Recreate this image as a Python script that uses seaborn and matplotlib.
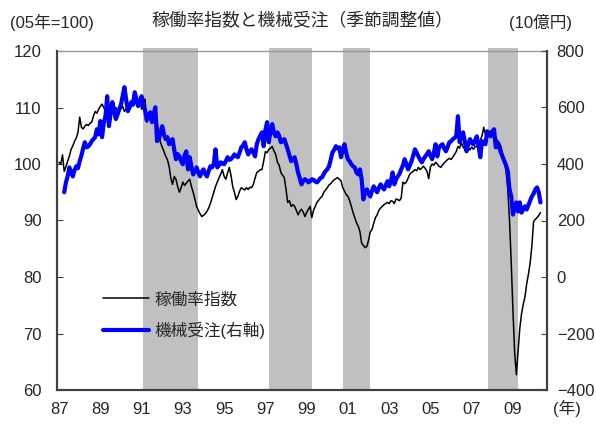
import numpy as np
import pandas as pd
import matplotlib
matplotlib.use("Agg")
import matplotlib.pyplot as plt
import seaborn as sns

# ==========================
# DATA (monthly)
# ==========================

# 稼働率指数 (left axis, 2005=100), Jan 1987 - May 2010
kado = [
    100.3, 100.0, 101.6, 98.7, 99.5, 100.5, 101.4, 102.6, 103.2, 104.0, 104.6, 105.6,   # 1987
    108.3, 106.5, 106.2, 106.7, 107.0, 106.8, 107.2, 107.4, 108.5, 109.3, 109.0, 109.7,  # 1988
    110.2, 110.6, 110.0, 109.4, 109.0, 109.3, 110.0, 109.6, 109.2, 110.0, 109.5, 109.2,  # 1989
    109.8, 110.2, 109.3, 109.8, 110.4, 110.6, 110.2, 110.8, 111.0, 110.6, 111.2, 111.5,  # 1990
    109.7, 110.8, 111.5, 107.4, 108.2, 109.0, 108.4, 107.8, 108.0, 107.4, 105.6, 103.8,  # 1991
    103.0, 102.2, 101.4, 100.8, 99.6, 97.5, 96.4, 97.8, 97.3, 96.0, 95.0, 95.8,          # 1992
    96.8, 96.2, 96.6, 97.0, 97.3, 96.0, 95.0, 93.8, 92.5, 91.8, 91.2, 90.7,              # 1993
    90.9, 91.2, 91.6, 92.2, 93.0, 94.0, 95.0, 96.0, 96.8, 97.5, 98.2, 99.0,              # 1994
    97.8, 97.3, 98.4, 99.4, 98.0, 96.0, 95.0, 93.7, 94.3, 95.2, 95.8, 95.6,              # 1995
    95.4, 95.8, 95.5, 95.9, 95.8, 96.4, 97.5, 98.5, 98.7, 99.0, 99.0, 100.5,             # 1996
    102.2, 102.0, 102.6, 102.8, 103.1, 102.3, 101.7, 100.3, 99.8, 98.5, 98.0, 97.6,      # 1997
    95.5, 93.2, 93.5, 92.5, 92.8, 92.5, 91.8, 91.0, 91.6, 92.0, 91.5, 90.7,              # 1998
    91.4, 92.0, 92.5, 90.5, 91.8, 92.5, 93.2, 93.6, 94.0, 94.3, 95.0, 95.4,              # 1999
    95.8, 96.3, 96.5, 96.9, 97.2, 97.4, 97.6, 97.3, 97.0, 95.8, 95.2, 94.6,              # 2000
    94.3, 93.5, 92.5, 91.4, 90.5, 89.6, 89.0, 88.0, 86.0, 85.6, 85.2, 85.4,              # 2001
    86.5, 88.0, 88.4, 89.5, 90.5, 91.0, 91.8, 92.2, 92.5, 92.8, 93.0, 93.2,              # 2002
    93.0, 93.5, 93.4, 93.0, 93.8, 93.7, 93.5, 94.0, 96.8, 96.5, 96.8, 97.5,              # 2003
    98.2, 98.5, 98.7, 99.0, 98.8, 99.4, 99.0, 99.3, 99.6, 99.2, 98.7, 97.4,              # 2004
    99.5, 100.0, 99.8, 100.3, 100.0, 99.6, 99.4, 99.8, 100.2, 100.5, 100.8, 101.0,       # 2005
    100.8, 101.2, 101.7, 102.2, 103.1, 102.8, 103.8, 103.0, 102.6, 102.4, 102.8, 102.5,  # 2006
    103.0, 102.6, 103.1, 103.1, 103.6, 104.2, 105.0, 106.5, 105.2, 104.7, 105.6, 105.8,  # 2007
    106.1, 105.5, 104.8, 104.0, 103.8, 103.1, 101.7, 100.5, 98.7, 95.5, 90.0, 82.5,      # 2008
    74.0, 66.5, 62.7, 67.0, 71.0, 73.5, 75.2, 76.5, 78.8, 80.5, 82.5, 85.5,              # 2009
    89.8, 90.2, 90.5, 90.9, 91.4,                                                         # 2010
]

# 機械受注 (right axis, 10億円), Apr 1987 - May 2010
kikai = [
    300, 335, 356, 388, 372, 356, 378, 392, 385,                # 1987 (Apr-)
    410, 430, 455, 477, 459, 462, 470, 481, 488, 495, 523, 505,  # 1988
    552, 495, 545, 569, 640, 534, 580, 619, 590, 559, 575, 594,  # 1989
    610, 640, 672, 630, 587, 600, 619, 610, 654, 630, 605, 620,  # 1990
    640, 605, 590, 555, 570, 583, 548, 575, 601, 481, 488, 510,  # 1991
    534, 505, 488, 495, 470, 480, 488, 450, 417, 435, 427, 410,  # 1992
    399, 430, 445, 381, 424, 390, 363, 375, 388, 370, 356, 372,  # 1993
    381, 365, 356, 375, 392, 388, 400, 452, 388, 395, 406, 402,  # 1994
    399, 410, 424, 415, 417, 425, 434, 428, 424, 440, 459, 465,  # 1995
    477, 452, 434, 445, 452, 440, 427, 470, 488, 500, 512, 463,  # 1996
    520, 548, 477, 520, 541, 510, 498, 512, 500, 477, 480, 488,  # 1997
    470, 452, 430, 410, 415, 424, 400, 370, 350, 328, 340, 346,  # 1998
    342, 335, 339, 346, 344, 338, 335, 342, 350, 353, 365, 375,  # 1999
    381, 392, 415, 441, 450, 463, 455, 459, 424, 450, 470, 440,  # 2000
    417, 410, 399, 392, 388, 370, 363, 381, 345, 275, 300, 310,  # 2001
    295, 285, 305, 321, 310, 300, 315, 328, 318, 310, 325, 339,  # 2002
    321, 340, 370, 328, 345, 356, 365, 381, 395, 417, 400, 381,  # 2003
    395, 410, 430, 452, 440, 427, 415, 406, 418, 427, 435, 445,  # 2004
    430, 417, 440, 470, 427, 459, 465, 470, 455, 445, 460, 477,  # 2005
    480, 488, 492, 498, 569, 477, 500, 512, 480, 445, 470, 488,  # 2006
    475, 470, 485, 498, 463, 424, 481, 475, 470, 516, 505, 498,  # 2007
    510, 523, 459, 477, 460, 441, 425, 410, 395, 374, 310, 285,  # 2008
    221, 245, 264, 232, 264, 228, 240, 250, 239, 255, 270, 285,  # 2009
    295, 310, 317, 300, 264,                                     # 2010
]

# recession periods (shaded), decimal years
rec_start = [1991.05, 1997.17, 2000.76, 2007.81]
rec_end = [1993.72, 1999.28, 2002.05, 2009.23]

year_ticks = list(range(1987, 2010, 2))
year_labels = ["87", "89", "91", "93", "95", "97", "99", "01", "03", "05", "07", "09"]

df1 = pd.DataFrame({"t": 1987 + np.arange(len(kado)) / 12, "v": kado})
df2 = pd.DataFrame({"t": 1987 + (3 + np.arange(len(kikai))) / 12, "v": kikai})

# ==========================
# PLOT
# ==========================
sns.set_style("white")
plt.rcParams["font.family"] = ["Liberation Sans", "Noto Sans CJK JP", "DejaVu Sans"]

fig = plt.figure(figsize=(5.96, 4.25), dpi=100)
ax = fig.add_axes([57 / 596, 1 - 390 / 425, 490 / 596, 339 / 425])
ax2 = ax.twinx()

for s, e in zip(rec_start, rec_end):
    ax.axvspan(s, e, ymin=0, ymax=1.008, color="#c0c0c0", lw=0, clip_on=False, zorder=0)

sns.lineplot(data=df1, x="t", y="v", ax=ax, color="black", lw=1.1, label="稼働率指数", legend=False)
sns.lineplot(data=df2, x="t", y="v", ax=ax2, color="#0000ff", lw=3.0, label="機械受注(右軸)", legend=False)

ax.set_xlim(1986.9, 2010.65)
ax.set_ylim(60, 120)
ax2.set_ylim(-400, 800)
ax.set_yticks(range(60, 121, 10))
ax2.set_yticks(range(-400, 801, 200))
ax.set_xticks(year_ticks)
ax.set_xticklabels(year_labels)
ax.set_xlabel("")
ax.set_ylabel("")
ax2.set_ylabel("")

fs = 12
ax.tick_params(axis="y", direction="in", length=4, labelsize=fs, pad=11, color="#404040")
ax2.tick_params(axis="y", direction="in", length=4, labelsize=fs, pad=7, color="#404040")
ax.tick_params(axis="x", length=0, labelsize=fs, pad=9)

for a in (ax, ax2):
    for side in ("left", "right", "bottom"):
        a.spines[side].set_color("#404040")
        a.spines[side].set_linewidth(1.5)
    a.spines["top"].set_color("#999999")
    a.spines["top"].set_linewidth(1.0)
ax2.spines["top"].set_visible(False)

h1, l1 = ax.get_legend_handles_labels()
h2, l2 = ax2.get_legend_handles_labels()
ax2.legend(h1 + h2, l1 + l2, loc="upper left", bbox_to_anchor=(0.093, 0.29),
           frameon=False, fontsize=fs, handlelength=2.8, handletextpad=0.3,
           labelspacing=0.85, borderaxespad=0, borderpad=0)

fig.text(52 / 596, 1 - 22 / 425, "(05年=100)", ha="center", va="center", fontsize=fs)
fig.text(302 / 596, 1 - 22 / 425, "稼働率指数と機械受注（季節調整値）", ha="center", va="center", fontsize=12.8)
fig.text(540 / 596, 1 - 22 / 425, "(10億円)", ha="center", va="center", fontsize=fs)
fig.text(567 / 596, 1 - 408 / 425, "(年)", ha="center", va="center", fontsize=fs)

fig.savefig("out.png", dpi=100)
